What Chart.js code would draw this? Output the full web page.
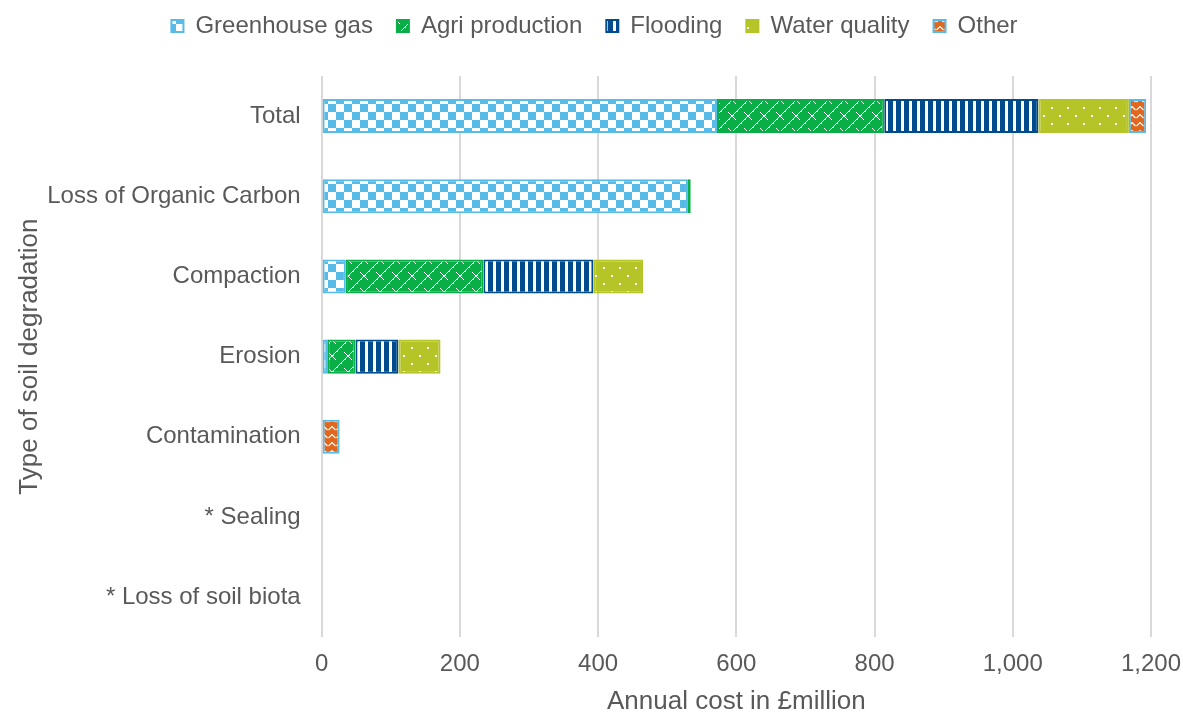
<!DOCTYPE html>
<html>
<head>
<meta charset="utf-8">
<script src="https://cdn.jsdelivr.net/npm/chart.js@4.4.0/dist/chart.umd.min.js"></script>
<style>
html,body{margin:0;padding:0;background:#fff;}
#wrap{width:1183px;height:713px;position:relative;}
</style>
</head>
<body>
<div id="wrap"><canvas id="c"></canvas></div>
<script>
const categories = ['Total','Loss of Organic Carbon','Compaction','Erosion','Contamination','* Sealing','* Loss of soil biota'];
const seriesNames = ['Greenhouse gas','Agri production','Flooding','Water quality','Other'];
const greenhouseGas = [572, 530, 35, 8, null, null, null];
const agriProduction = [242, 4, 199, 41, null, null, null];
const flooding = [223, null, 159, 62, null, null, null];
const waterQuality = [131, null, 72, 61, null, null, null];
const other = [25, null, null, null, 26, null, null];
const xTicks = [0, 200, 400, 600, 800, 1000, 1200];

const LBLUE = '#57bbe8', GREEN = '#0aae46', DBLUE = '#004b8d', YGREEN = '#b5c426', ORANGE = '#e2661c';
const TEXT = '#595959';
const FAM = "'Liberation Sans', Arial, sans-serif";

function tile(w, h, draw){
  const c = document.createElement('canvas'); c.width = w; c.height = h;
  const g = c.getContext('2d'); draw(g, w, h);
  return document.getElementById('c').getContext('2d').createPattern(c, 'repeat');
}
const pGHG = tile(16, 16, (g) => {
  g.fillStyle = '#fff'; g.fillRect(0,0,16,16);
  g.fillStyle = LBLUE; g.fillRect(0,0,8,8); g.fillRect(8,8,8,8);
});
const pAgri = tile(16, 16, (g) => {
  g.fillStyle = GREEN; g.fillRect(0,0,16,16);
  g.fillStyle = '#fff';
  // stepped up-right diagonal
  for (let i = 0; i < 16; i++) { g.fillRect(i, 15 - i, 1, 1); }
  for (let i = 0; i < 16; i += 4) { g.fillRect(i + 1, 15 - i, 1, 1); }
  // short down-right links forming a zigzag lattice
  for (let i = 0; i < 8; i++) { g.fillRect(8 + i, 8 + i - 8 < 0 ? 0 : i, 1, 1); }
});
const pFlood = tile(8, 8, (g) => {
  g.fillStyle = DBLUE; g.fillRect(0,0,8,8);
  g.fillStyle = '#fff'; g.fillRect(5,0,3,8);
});
const pWater = tile(16, 16, (g) => {
  g.fillStyle = YGREEN; g.fillRect(0,0,16,16);
  g.fillStyle = '#fff'; g.fillRect(3,3,2,2); g.fillRect(11,11,2,2);
});
const pOther = tile(8, 8, (g) => {
  g.fillStyle = ORANGE; g.fillRect(0,0,8,8);
  g.strokeStyle = '#fff'; g.lineWidth = 1.2;
  g.beginPath(); g.moveTo(0.5,6); g.lineTo(4,2.5); g.lineTo(7.5,6); g.stroke();
});

const ds = (label, data, bg, border) => ({
  label, data, backgroundColor: bg, borderColor: border, borderWidth: 2,
  borderSkipped: false, barPercentage: 0.425, categoryPercentage: 1.0
});

const legendMargin = {
  id: 'legendMargin',
  beforeInit(chart) {
    const orig = chart.legend.fit;
    chart.legend.fit = function () { orig.bind(chart.legend)(); this.height += 28; };
  }
};

new Chart(document.getElementById('c'), {
  type: 'bar',
  data: {
    labels: categories,
    datasets: [
      ds(seriesNames[0], greenhouseGas, pGHG, LBLUE),
      ds(seriesNames[1], agriProduction, pAgri, GREEN),
      ds(seriesNames[2], flooding, pFlood, DBLUE),
      ds(seriesNames[3], waterQuality, pWater, YGREEN),
      ds(seriesNames[4], other, pOther, LBLUE)
    ]
  },
  plugins: [legendMargin],
  options: {
    indexAxis: 'y',
    responsive: true,
    maintainAspectRatio: false,
    animation: false,
    layout: { padding: { top: -10, left: 6, right: 0, bottom: -2 } },
    plugins: {
      legend: {
        position: 'top',
        labels: { boxWidth: 12, boxHeight: 12, padding: 24, color: TEXT,
          font: { family: FAM, size: 24 } }
      },
      tooltip: { enabled: false }
    },
    scales: {
      x: {
        stacked: true, min: 0, max: 1200,
        afterBuildTicks: (axis) => { axis.ticks = xTicks.map(v => ({ value: v })); },
        afterFit: (scale) => { scale.paddingRight = 32; },
        ticks: { color: TEXT, padding: 13, font: { family: FAM, size: 24 },
          callback: (v) => v.toLocaleString('en-US') },
        grid: { color: '#d9d9d9', lineWidth: 2, drawTicks: false },
        border: { display: false },
        title: { display: true, text: 'Annual cost in £million', color: TEXT,
          font: { family: FAM, size: 26, lineHeight: 1.0 }, padding: { top: -3, bottom: 0 } }
      },
      y: {
        stacked: true,
        ticks: { color: TEXT, padding: 21, font: { family: FAM, size: 24 } },
        grid: { display: false, drawTicks: false },
        border: { display: false },
        title: { display: true, text: 'Type of soil degradation', color: TEXT,
          font: { family: FAM, size: 26 }, padding: { top: 8, bottom: -19 } }
      }
    }
  }
});
</script>
</body>
</html>
